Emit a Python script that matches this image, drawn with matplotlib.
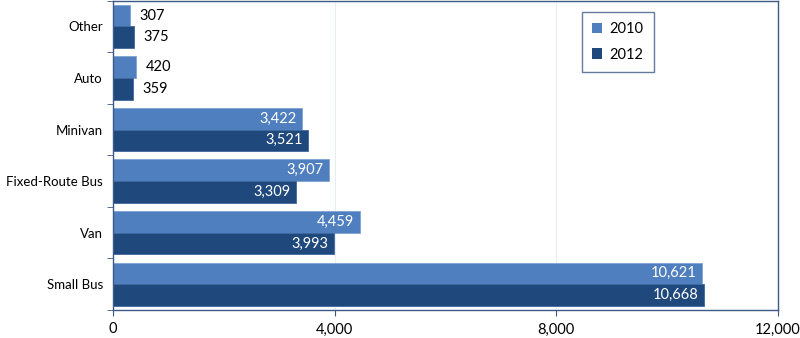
import numpy as np
import matplotlib.pyplot as plt
from matplotlib.ticker import FuncFormatter, FixedLocator

plt.rcParams['font.family'] = ['Lato', 'DejaVu Sans']

# vehicle types, bottom to top
categories = ["Small Bus", "Van", "Fixed-Route Bus", "Minivan", "Auto", "Other"]
vals_2010 = [10621, 4459, 3907, 3422, 420, 307]
vals_2012 = [10668, 3993, 3309, 3521, 359, 375]

c2010 = "#4f7fbe"
c2012 = "#1f487c"
spine_col = "#3d5a85"

fig = plt.figure(figsize=(8, 3.38), dpi=100)
ax = fig.add_axes([0.141, 0.083, 0.8315, 0.915])

y = np.arange(len(categories))
h = 0.42
b1 = ax.barh(y + h / 2, vals_2010, height=h, color=c2010, edgecolor="#7fa3d3", linewidth=0.6, label="2010")
b2 = ax.barh(y - h / 2, vals_2012, height=h, color=c2012, edgecolor="#40679c", linewidth=0.6, label="2012")

# value labels: inside for long bars, outside for short ones
for bars, vals in ((b1, vals_2010), (b2, vals_2012)):
    for bar, v in zip(bars, vals):
        cy = bar.get_y() + bar.get_height() / 2
        txt = f"{v:,}"
        if v > 1000:
            ax.annotate(txt, (v, cy), xytext=(-4, 0), textcoords="offset points",
                        ha="right", va="center", color="white", fontsize=10.5)
        else:
            ax.annotate(txt, (v, cy), xytext=(7, 0), textcoords="offset points",
                        ha="left", va="center", color="black", fontsize=10.5)

ax.set_xlim(0, 12000)
ax.set_ylim(-0.5, len(categories) - 0.5)
ax.set_xticks([0, 4000, 8000, 12000])
ax.xaxis.set_major_formatter(FuncFormatter(lambda v, p: f"{int(v):,}"))
ax.tick_params(axis="x", direction="out", length=4, color=spine_col, labelsize=10.5, pad=5)

ax.set_yticks(y)
ax.set_yticklabels(categories, fontsize=9.5)
ax.tick_params(axis="y", which="major", length=0, pad=7)
ax.yaxis.set_minor_locator(FixedLocator(np.arange(-0.5, len(categories), 1.0)))
ax.tick_params(axis="y", which="minor", direction="out", length=4, color=spine_col)

ax.grid(axis="x", color="#e6edf5", linewidth=0.8)
ax.set_axisbelow(True)
for s in ax.spines.values():
    s.set_color(spine_col)
    s.set_linewidth(1.0)

leg = ax.legend(loc="upper left", bbox_to_anchor=(0.705, 0.964), borderaxespad=0,
                frameon=True, fancybox=False, fontsize=10.5, handlelength=0.7,
                handleheight=0.7, borderpad=0.7, labelspacing=0.8, handletextpad=0.5)
leg.get_frame().set_edgecolor(spine_col)
leg.get_frame().set_linewidth(1.0)
for p in leg.get_patches():
    p.set_linewidth(0)

fig.savefig("out.png", dpi=100, facecolor="white")
